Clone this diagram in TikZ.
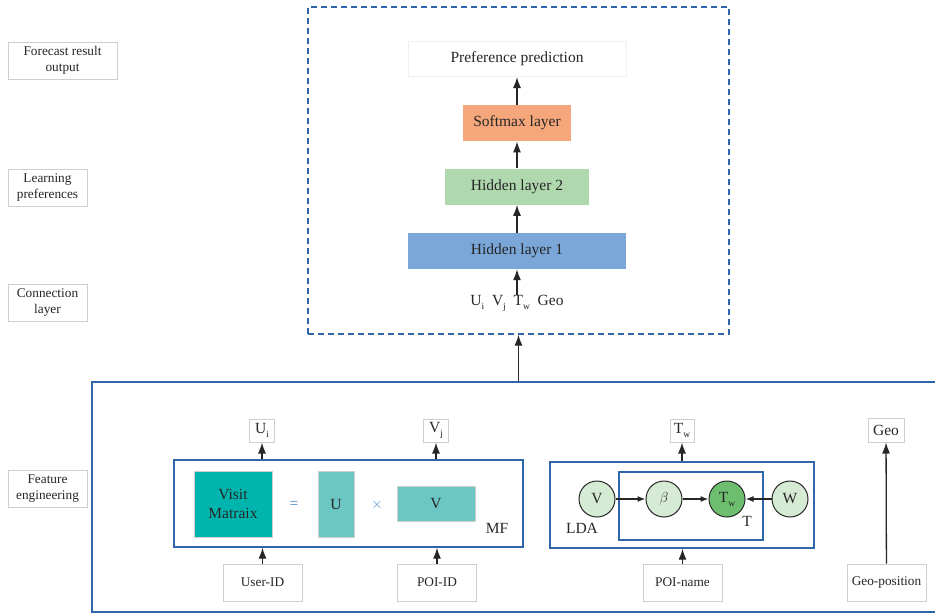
\documentclass[tikz,border=0pt]{standalone}
\usepackage{fontspec}
\setmainfont{Liberation Serif}
\usetikzlibrary{shapes,arrows.meta,fit,positioning}
\definecolor{ink}{HTML}{262626}
\definecolor{tagline}{HTML}{CFCFCF}
\definecolor{frameblue}{HTML}{2F66AB}
\definecolor{opblue}{HTML}{4A86C8}
\definecolor{softmax}{HTML}{F5A77B}
\definecolor{hidtwo}{HTML}{AFD8AF}
\definecolor{hidone}{HTML}{7AA6D8}
\definecolor{tealdark}{HTML}{00B5AD}
\definecolor{teallight}{HTML}{6CC7C4}
\definecolor{nodelight}{HTML}{D6EBD4}
\definecolor{nodedark}{HTML}{6DBE6F}
\def\bigtxt{\fontsize{15.5}{19}\selectfont}
\def\smalltxt{\fontsize{13.3}{16}\selectfont}
\def\Sub#1#2{#1\raisebox{-4pt}{\fontsize{9.5}{9.5}\selectfont #2}}

\begin{document}
\begin{tikzpicture}[x=1pt,y=-1pt,% coordinates in pixels of the reference
					every node/.style={
						align=center,		% "\\" breaks lines
						inner sep=0pt,
						text=ink
						},
					every edge/.style={draw=ink,line width=1.3pt},
					>={Latex[length=11pt,width=8pt]},
					small arrow/.style={-{Latex[length=8pt,width=6pt]}},
					tag/.style={rectangle,draw=tagline,line width=1pt,fill=white,font=\smalltxt},
					layer/.style={rectangle,minimum height=36pt,font=\bigtxt},
					matbox/.style={rectangle,draw=tagline,line width=1pt,font=\bigtxt},
					frame/.style={rectangle,draw=frameblue,line width=1.3pt},
					var/.style={circle,draw=ink,line width=1pt,fill=nodelight,minimum size=36pt,font=\bigtxt}
					]
\useasboundingbox (0,0) rectangle (935,614);
% stage labels
\node[tag,minimum width=109pt,minimum height=37pt](S1) at (62.5,60.5){Forecast result\\output};
\node[tag,minimum width=79pt,minimum height=37pt](S2) at (47.5,187.5){Learning\\preferences};
\node[tag,minimum width=79pt,minimum height=37pt](S3) at (47.5,302.5){Connection\\layer};
\node[tag,minimum width=79pt,minimum height=37pt](S4) at (47.5,488.5){Feature\\engineering};
% prediction network
\node[rectangle,draw=frameblue,line width=1.3pt,dash pattern=on 6pt off 4pt,minimum width=421pt,minimum height=327pt](DL) at (518.5,170.5){};
\node[layer,fill=hidone,minimum width=218pt](H1) at (517,251){Hidden layer 1};
\node[layer,fill=hidtwo,minimum width=144pt](H2)[above=28pt of H1]{Hidden layer 2};
\node[layer,fill=softmax,minimum width=108pt](SM)[above=27pt of H2]{Softmax layer};
\node[layer,draw=black!6,line width=1pt,fill=white,minimum width=218pt,minimum height=35pt](PP)[above=28pt of SM]{Preference prediction};
\node[font=\bigtxt,anchor=north](IN)[below=26pt of H1]{\Sub{U}{i}\enspace\Sub{V}{j}\enspace\Sub{T}{w}\enspace Geo};
% feature engineering
\node[frame,line width=1.5pt,minimum width=850pt,minimum height=230pt](FE) at (517,497){};
\node[frame,minimum width=349pt,minimum height=87pt](MF) at (348.5,503.5){};
\node[matbox,fill=tealdark,minimum width=78pt,minimum height=66pt](VM) at (233,504){Visit\\Matraix};
\node[matbox,fill=teallight,minimum width=36pt,minimum height=66pt](U)[right=45pt of VM]{U};
\node[matbox,fill=teallight,minimum width=78pt,minimum height=35pt](V)[right=42pt of U]{V};
\node[font=\bigtxt,text=opblue](EQ) at (294,505){=};
\node[font=\bigtxt,text=opblue](X) at (377,505){$\times$};
\node[font=\bigtxt](MFL) at (497,528){MF};
\node[tag,font=\bigtxt,minimum width=25pt,minimum height=23pt](Ui) at (262,430.5){\Sub{U}{i}};
\node[tag,font=\bigtxt,minimum width=25pt,minimum height=23pt](Vj) at (436,430.5){\Sub{V}{j}};
\node[tag,minimum width=79pt,minimum height=37pt](UID) at (262.5,582.5){User-ID};
\node[tag,minimum width=79pt,minimum height=37pt](PID) at (437,582.5){POI-ID};
% LDA
\node[frame,minimum width=264pt,minimum height=86pt](LDA) at (682,505){};
\node[frame,minimum width=144pt,minimum height=68pt](TB) at (691,506){};
\node[var](CV) at (597,499){V};
\node[var](CB)[right=30pt of CV]{$\beta$};
\node[var,fill=nodedark](CT)[right=26pt of CB]{\Sub{T}{w}};
\node[var](CW)[right=26pt of CT]{W};
\node[font=\bigtxt](LDAL) at (582,528){LDA};
\node[font=\bigtxt](TL) at (747,521){T};
\node[tag,font=\bigtxt,minimum width=24pt,minimum height=23pt](Tw) at (682,430.5){\Sub{T}{w}};
\node[tag,minimum width=79pt,minimum height=37pt](PN) at (682.5,582.5){POI-name};
\node[tag,font=\bigtxt,minimum width=36pt,minimum height=24pt](Geo) at (886,430){Geo};
\node[tag,minimum width=79pt,minimum height=37pt](GP) at (886.5,582.5){Geo-position};
\path[->]
(IN.north)edge (H1)
(H1)edge (H2)
(H2)edge (SM)
(SM)edge (PP)
(DL.south |- FE.north)edge (DL.south)
(UID)edge (UID |- MF.south)
(PID)edge (PID |- MF.south)
(Ui |- MF.north)edge (Ui)
(Vj |- MF.north)edge (Vj)
(PN)edge (PN |- LDA.south)
(Tw |- LDA.north)edge (Tw)
(GP)edge (Geo)
(CV)edge [small arrow] (CB)
(CB)edge [small arrow] (CT)
(CW)edge [small arrow] (CT)
;
\end{tikzpicture}
\end{document}
